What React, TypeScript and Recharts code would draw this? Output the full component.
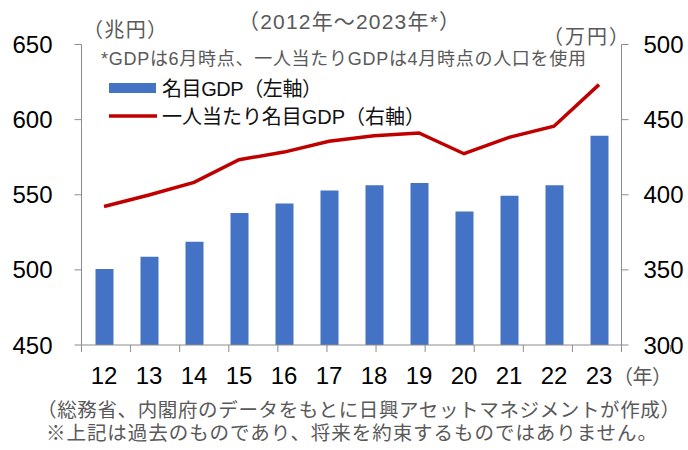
import React from "react";
import { ComposedChart, Bar, Line, XAxis, YAxis, Legend } from "recharts";

const years = ["12", "13", "14", "15", "16", "17", "18", "19", "20", "21", "22", "23"];
const nominalGdp = [500.5, 508.7, 518.7, 537.8, 544.2, 552.9, 556.4, 557.8, 538.9, 549.3, 556.4, 589.3];
const perCapitaGdp = [392.2, 399.8, 408.2, 423.3, 428.4, 435.6, 439.3, 441.1, 427.3, 438.2, 445.6, 473.3];
const leftTicks = [450, 500, 550, 600, 650];
const rightTicks = [300, 350, 400, 450, 500];
const edgeTicks = [0, 1, 2, 3, 4, 5, 6, 7, 8, 9, 10, 11, 12];

const barName = "名目GDP（左軸）";
const lineName = "一人当たり名目GDP（右軸）";

const data = years.map((y, i) => ({ year: y, gdp: nominalGdp[i], perCapita: perCapitaGdp[i] }));

const FONT = '"Liberation Sans", Arial, "Noto Sans CJK JP", sans-serif';
const GRAY = "#595959";
const AXIS = "#8c8c8c";

const renderLegend = (props: any) => {
  const payload = [...(props.payload || [])].sort(
    (a: any, b: any) => (a.dataKey === "gdp" ? 0 : 1) - (b.dataKey === "gdp" ? 0 : 1)
  );
  return (
    <svg width={340} height={60} style={{ display: "block", overflow: "visible" }}>
      {payload.map((entry: any, i: number) => {
        const cy = 14 + i * 28;
        const isBar = entry.dataKey === "gdp";
        return (
          <g key={i}>
            {isBar ? (
              <rect x={0} y={cy - 5} width={47} height={10} fill={entry.color} />
            ) : (
              <line x1={0} x2={48} y1={cy} y2={cy} stroke={entry.color} strokeWidth={3.5} />
            )}
            <text
              x={53}
              y={cy + 7.5}
              fontSize={20}
              fontFamily={FONT}
              fill="#111"
              textLength={isBar ? 160 : 263}
            >
              {entry.value}
            </text>
          </g>
        );
      })}
    </svg>
  );
};

export default function App() {
  return (
    <div style={{ position: "absolute", left: 0, top: 0, width: 688, height: 450, background: "#fff" }}>
      <ComposedChart
        width={688}
        height={450}
        data={data}
        margin={{ top: 44.5, right: 0, bottom: 104.98, left: 0 }}
      >
        <XAxis
          dataKey="year"
          xAxisId="cat"
          height={0.01}
          axisLine={{ stroke: AXIS }}
          tickLine={false}
          tickSize={7}
          tickMargin={15}
          interval={0}
          tick={{ fontSize: 24, fill: "#000", fontFamily: FONT }}
        />
        <XAxis
          xAxisId="edges"
          type="number"
          domain={[0, 12]}
          ticks={edgeTicks}
          interval={0}
          height={0.01}
          axisLine={false}
          tickLine={{ stroke: AXIS }}
          tickSize={7}
          tickFormatter={() => ""}
          allowDataOverflow
        />
        <YAxis
          yAxisId="left"
          width={81.5}
          domain={[450, 650]}
          ticks={leftTicks}
          interval={0}
          axisLine={{ stroke: AXIS }}
          tickLine={{ stroke: AXIS }}
          tickSize={7}
          tickMargin={22}
          tick={{ fontSize: 24, fill: "#000", fontFamily: FONT }}
          allowDataOverflow
        />
        <YAxis
          yAxisId="right"
          orientation="right"
          width={66.5}
          domain={[300, 500]}
          ticks={rightTicks}
          interval={0}
          axisLine={{ stroke: AXIS }}
          tickLine={{ stroke: AXIS }}
          tickSize={7}
          tickMargin={15}
          tick={{ fontSize: 24, fill: "#000", fontFamily: FONT }}
          allowDataOverflow
        />
        <Legend
          layout="vertical"
          align="center"
          verticalAlign="middle"
          content={renderLegend}
          wrapperStyle={{ left: 109, top: 74, width: 340, height: 60 }}
        />
        <Bar
          xAxisId="cat"
          yAxisId="left"
          dataKey="gdp"
          name={barName}
          fill="#4472C4"
          barSize={18}
          isAnimationActive={false}
        />
        <Line
          xAxisId="cat"
          yAxisId="right"
          dataKey="perCapita"
          name={lineName}
          stroke="#C00000"
          strokeWidth={3.5}
          dot={false}
          activeDot={false}
          type="linear"
          isAnimationActive={false}
        />
      </ComposedChart>
      <svg
        width={688}
        height={450}
        style={{ position: "absolute", left: 0, top: 0, pointerEvents: "none" }}
        fontFamily={FONT}
      >
        <text x={83} y={37} fontSize={20} fill={GRAY} textLength={84}>（兆円）</text>
        <text x={238} y={29} fontSize={21} fill={GRAY} textLength={222}>（2012年～2023年*）</text>
        <text x={543} y={43.5} fontSize={20} fill={GRAY} textLength={86}>（万円）</text>
        <text x={101} y={64.5} fontSize={18} fill={GRAY} textLength={485}>*GDPは6月時点、一人当たりGDPは4月時点の人口を使用</text>
        <text x={613} y={384} fontSize={20} fill={GRAY} textLength={59}>（年）</text>
        <text x={37} y={417} fontSize={19.5} fill={GRAY} textLength={643}>（総務省、内閣府のデータをもとに日興アセットマネジメントが作成）</text>
        <text x={46} y={440} fontSize={19.5} fill={GRAY} textLength={611}>※上記は過去のものであり、将来を約束するものではありません。</text>
      </svg>
    </div>
  );
}
